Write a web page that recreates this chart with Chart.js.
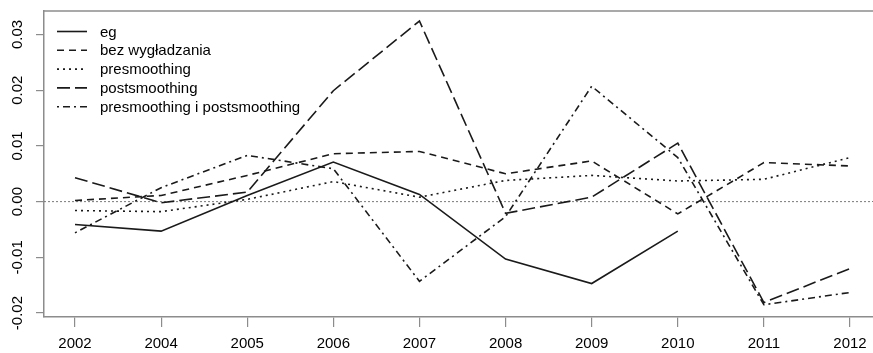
<!DOCTYPE html>
<html>
<head>
<meta charset="utf-8">
<script src="https://cdn.jsdelivr.net/npm/chart.js@4/dist/chart.umd.min.js"></script>
<style>
  html, body { margin: 0; padding: 0; background: #fff; overflow: hidden; }
  #wrap { width: 873px; height: 353px; }
  canvas { display: block; }
</style>
</head>
<body>
<div id="wrap"><canvas id="c" width="873" height="353"></canvas></div>
<script>
// Years on the horizontal axis
const years = ['2002', '2004', '2005', '2006', '2007', '2008', '2009', '2010', '2011', '2012'];

// Series values
const eg            = [-0.0041, -0.0053, 0.0011, 0.0071, 0.0013, -0.0103, -0.0147, -0.0053, null, null];
const bezWygladz    = [0.0002, 0.0011, 0.0047, 0.0086, 0.0090, 0.0050, 0.0073, -0.0022, 0.0070, 0.0064];
const presmoothing  = [-0.0016, -0.0018, 0.0004, 0.0036, 0.0008, 0.0038, 0.0047, 0.0037, 0.0040, 0.0079];
const postsmoothing = [0.0043, -0.0002, 0.0017, 0.0199, 0.0324, -0.0021, 0.0008, 0.0105, -0.0181, -0.0120];
const prePost       = [-0.0056, 0.0025, 0.0083, 0.0059, -0.0143, -0.0027, 0.0207, 0.0079, -0.0185, -0.0163];

// Vertical axis tick values
const yTicks = [-0.02, -0.01, 0.00, 0.01, 0.02, 0.03];

const FONT = '"Liberation Sans", Arial, Helvetica, sans-serif';
const AXIS_GREY = '#8c8c8c';
const INK = '#1a1a1a';
const TEXT = '#000';

const toPoints = vals => vals.map((v, i) => ({ x: i + 1, y: v }));

// Box top edge, dotted zero reference line, rotated y labels
const framePlugin = {
  id: 'frame',
  beforeDatasetsDraw(chart) {
    const { ctx, chartArea: a, scales } = chart;
    ctx.save();
    const y0 = scales.y.getPixelForValue(0);
    ctx.strokeStyle = '#7a7a7a';
    ctx.lineWidth = 1;
    ctx.setLineDash([2, 2]);
    ctx.beginPath();
    ctx.moveTo(a.left, y0);
    ctx.lineTo(a.right, y0);
    ctx.stroke();
    ctx.setLineDash([]);
    ctx.strokeStyle = AXIS_GREY;
    ctx.lineWidth = 1.5;
    ctx.beginPath();
    ctx.moveTo(a.left, a.top);
    ctx.lineTo(a.right, a.top);
    ctx.stroke();
    ctx.restore();
  },
  afterDraw(chart) {
    const { ctx, scales } = chart;
    ctx.save();
    ctx.font = '15px ' + FONT;
    ctx.fillStyle = TEXT;
    ctx.textAlign = 'center';
    ctx.textBaseline = 'middle';
    yTicks.forEach(v => {
      const py = scales.y.getPixelForValue(v);
      ctx.save();
      ctx.translate(18, py);
      ctx.rotate(-Math.PI / 2);
      ctx.fillText(v.toFixed(2), 0, 0);
      ctx.restore();
    });
    ctx.restore();
  }
};

// Legend in the upper-left corner of the plot
const legendPlugin = {
  id: 'cornerLegend',
  afterDatasetsDraw(chart) {
    const { ctx, chartArea: a } = chart;
    ctx.save();
    ctx.font = '15px ' + FONT;
    ctx.textBaseline = 'middle';
    chart.data.datasets.forEach((ds, i) => {
      const y = a.top + 20.5 + i * 18.8;
      ctx.beginPath();
      ctx.setLineDash(ds.borderDash || []);
      ctx.strokeStyle = ds.borderColor;
      ctx.lineWidth = ds.borderWidth;
      ctx.moveTo(a.left + 13, y);
      ctx.lineTo(a.left + 43, y);
      ctx.stroke();
      ctx.setLineDash([]);
      ctx.fillStyle = TEXT;
      ctx.fillText(ds.label, a.left + 56, y + 1);
    });
    ctx.restore();
  }
};

const lineStyle = (label, vals, dash) => ({
  label,
  data: toPoints(vals),
  borderColor: INK,
  borderWidth: 1.6,
  borderDash: dash,
  pointRadius: 0,
  tension: 0,
  spanGaps: false,
  fill: false
});

new Chart(document.getElementById('c'), {
  type: 'line',
  data: {
    datasets: [
      lineStyle('eg', eg, []),
      lineStyle('bez wygładzania', bezWygladz, [7, 5]),
      lineStyle('presmoothing', presmoothing, [2, 4]),
      lineStyle('postsmoothing', postsmoothing, [13, 5]),
      lineStyle('presmoothing i postsmoothing', prePost, [2, 4, 7, 4])
    ]
  },
  options: {
    responsive: false,
    animation: false,
    layout: { padding: { top: 11, right: 0, left: 0, bottom: 0 } },
    plugins: { legend: { display: false }, tooltip: { enabled: false } },
    scales: {
      x: {
        type: 'linear',
        min: 0.64,
        max: 10.267,
        afterBuildTicks: s => { s.ticks = years.map((_, i) => ({ value: i + 1 })); },
        afterFit: s => { s.height = 36; s.paddingRight = 0; },
        grid: { drawOnChartArea: false, drawTicks: true, tickLength: 10, color: AXIS_GREY, lineWidth: 1.2 },
        border: { display: true, color: AXIS_GREY, width: 1.5 },
        ticks: {
          autoSkip: false,
          maxRotation: 0,
          minRotation: 0,
          padding: 8,
          color: TEXT,
          font: { family: FONT, size: 15 },
          callback: v => years[v - 1]
        }
      },
      y: {
        type: 'linear',
        min: -0.0207,
        max: 0.0342,
        afterBuildTicks: s => { s.ticks = yTicks.map(v => ({ value: v })); },
        afterFit: s => { s.width = 44; },
        grid: { drawOnChartArea: false, drawTicks: true, tickLength: 8, color: AXIS_GREY, lineWidth: 1.2 },
        border: { display: true, color: AXIS_GREY, width: 1.5 },
        ticks: { display: false }
      }
    }
  },
  plugins: [framePlugin, legendPlugin]
});
</script>
</body>
</html>
